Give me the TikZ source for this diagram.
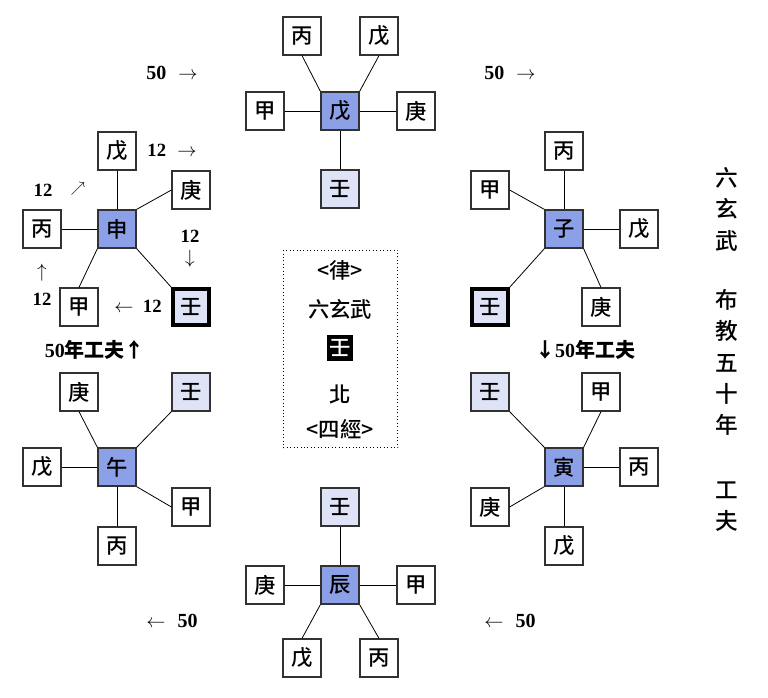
\documentclass[tikz,border=0pt]{standalone}
\usepackage{fontspec}
\setmainfont{Liberation Serif}
\newfontfamily\cjk{Noto Sans CJK TC Medium}
\definecolor{cblue}{RGB}{140,160,232}
\definecolor{clight}{RGB}{222,227,248}
\definecolor{bord}{RGB}{50,50,50}
\tikzset{
  bx/.style={draw=bord, line width=1.4pt, minimum size=28pt, inner sep=0pt, fill=white,
    font=\cjk\fontsize{16}{16}\selectfont},
  ctr/.style={bx, fill=cblue},
  lt/.style={bx, fill=clight},
  thk/.style={bx, fill=clight, draw=black, line width=2.8pt, minimum size=26.5pt},
  ln/.style={line width=0.6pt},
  lab/.style={inner sep=0pt, font=\bfseries\fontsize{15}{15}\selectfont},
  sml/.style={inner sep=0pt, font=\bfseries\fontsize{14}{14}\selectfont},
  big/.style={inner sep=0pt, font=\cjk\fontsize{16}{16}\selectfont},
  vt/.style={inner sep=0pt, font=\cjk\fontsize{17}{17}\selectfont}
}
\newcommand{\ar}[1]{{\cjk #1}}
\begin{document}
\begin{tikzpicture}[x=0.75pt,y=-0.75pt]
\useasboundingbox (0,0) rectangle (768,698);
% top cluster
\node[ctr] (Tc) at (340,111) {戊};
\node[bx] (Ta) at (302,36) {丙};
\node[bx] (Tb) at (379,36) {戊};
\node[bx] (Tl) at (265,111) {甲};
\node[bx] (Tr) at (416,111) {庚};
\node[lt] (Td) at (340,189) {壬};
\draw[ln] (Ta.south) -- (Tc.north west);
\draw[ln] (Tb.south) -- (Tc.north east);
\draw[ln] (Tl) -- (Tc);
\draw[ln] (Tr) -- (Tc);
\draw[ln] (Td) -- (Tc);
% left cluster
\node[ctr] (Lc) at (117,229) {申};
\node[bx] (Lu) at (117,151) {戊};
\node[bx] (Lr) at (191,190) {庚};
\node[bx] (Ll) at (42,229) {丙};
\node[bx] (Lbl) at (79,307) {甲};
\node[thk] (Lbr) at (191,307) {壬};
\draw[ln] (Lu) -- (Lc);
\draw[ln] (Lr.west) -- (Lc.north east);
\draw[ln] (Ll) -- (Lc);
\draw[ln] (Lbl.north) -- (Lc.south west);
\draw[ln] (Lbr.north west) -- (Lc.south east);
% right cluster
\node[ctr] (Rc) at (564,229) {子};
\node[bx] (Ru) at (564,151) {丙};
\node[bx] (Rl) at (490,190) {甲};
\node[bx] (Rr) at (639,229) {戊};
\node[thk] (Rbl) at (490,307) {壬};
\node[bx] (Rbr) at (601,307) {庚};
\draw[ln] (Ru) -- (Rc);
\draw[ln] (Rl.east) -- (Rc.north west);
\draw[ln] (Rr) -- (Rc);
\draw[ln] (Rbl.north east) -- (Rc.south west);
\draw[ln] (Rbr.north) -- (Rc.south east);
% bottom-left cluster
\node[ctr] (Mc) at (117,467) {午};
\node[bx] (Mul) at (79,392) {庚};
\node[lt] (Mur) at (191,392) {壬};
\node[bx] (Ml) at (42,467) {戊};
\node[bx] (Mr) at (191,507) {甲};
\node[bx] (Md) at (117,546) {丙};
\draw[ln] (Mul.south) -- (Mc.north west);
\draw[ln] (Mur.south west) -- (Mc.north east);
\draw[ln] (Ml) -- (Mc);
\draw[ln] (Mr.west) -- (Mc.south east);
\draw[ln] (Md) -- (Mc);
% bottom-right cluster
\node[ctr] (Nc) at (564,467) {寅};
\node[lt] (Nul) at (490,392) {壬};
\node[bx] (Nur) at (601,392) {甲};
\node[bx] (Nr) at (639,467) {丙};
\node[bx] (Nl) at (490,507) {庚};
\node[bx] (Nd) at (564,546) {戊};
\draw[ln] (Nul.south east) -- (Nc.north west);
\draw[ln] (Nur.south) -- (Nc.north east);
\draw[ln] (Nr) -- (Nc);
\draw[ln] (Nl.east) -- (Nc.south west);
\draw[ln] (Nd) -- (Nc);
% bottom cluster
\node[ctr] (Bc) at (340,585) {辰};
\node[lt] (Bu) at (340,507) {壬};
\node[bx] (Bl) at (265,585) {庚};
\node[bx] (Br) at (416,585) {甲};
\node[bx] (Bdl) at (302,658) {戊};
\node[bx] (Bdr) at (379,658) {丙};
\draw[ln] (Bu) -- (Bc);
\draw[ln] (Bl) -- (Bc);
\draw[ln] (Br) -- (Bc);
\draw[ln] (Bdl.north) -- (Bc.south west);
\draw[ln] (Bdr.north) -- (Bc.south east);
% centre box
\node[draw, dotted, line width=0.6pt, minimum width=86pt, minimum height=148pt, inner sep=0pt] (mid) at (340.5,349) {};
\node[big] (m1) at (340,270) {<律>};
\node[big] (m2) at (340,309) {六玄武};
\node[big, fill=black, text=white, minimum size=19pt] (m3) at (340,348) {壬};
\node[big] (m4) at (340,394) {北};
\node[big] (m5) at (340,429) {<四經>};
% arrow labels
\node[lab] (a1) at (172,73) {50\hspace{0.6em}$\rightarrow$};
\node[lab] (a2) at (510,73) {50\hspace{0.6em}$\rightarrow$};
\node[lab] (a3) at (172,621) {$\leftarrow$\hspace{0.6em}50};
\node[lab] (a4) at (510,621) {$\leftarrow$\hspace{0.6em}50};
\node[sml] (b1) at (172,150) {12\hspace{0.6em}$\rightarrow$};
\node[sml] (b2) at (43,190) {12};
\node[sml, font=\fontsize{11}{11}\selectfont] (b3) at (78,189) {$\nearrow$};
\node[sml] (b4) at (190,236) {12};
\node[sml] (b5) at (190,259) {$\downarrow$};
\node[sml] (b6) at (42,273) {$\uparrow$};
\node[sml] (b7) at (42,299) {12};
\node[sml] (b8) at (138,306) {$\leftarrow$\hspace{0.5em}12};
\node[lab] (c1) at (95,350) {50\ar{年工夫↑}};
\node[lab] (c2) at (585,350) {\ar{↓}50\ar{年工夫}};
% vertical text
\node[vt] (v1) at (727,178) {六};
\node[vt] (v2) at (727,209) {玄};
\node[vt] (v3) at (727,241) {武};
\node[vt] (v4) at (727,300) {布};
\node[vt] (v5) at (727,331) {教};
\node[vt] (v6) at (727,363) {五};
\node[vt] (v7) at (727,394) {十};
\node[vt] (v8) at (727,425) {年};
\node[vt] (v9) at (727,490) {工};
\node[vt] (v10) at (727,521) {夫};
\end{tikzpicture}
\end{document}
